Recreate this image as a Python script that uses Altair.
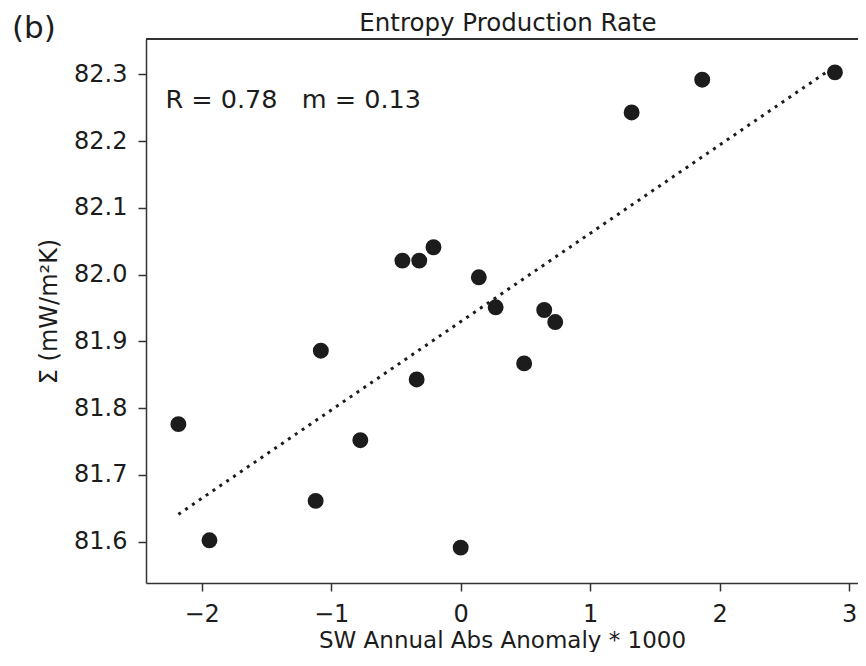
import altair as alt
import pandas as pd

# ---- data ----
x_vals = [-2.18, -1.94, -1.08, -1.12, -0.775, -0.45, -0.32, -0.21, -0.34,
          0.00, 0.14, 0.27, 0.645, 0.73, 0.49, 1.32, 1.865, 2.89]
y_vals = [81.776, 81.602, 81.886, 81.661, 81.752, 82.021, 82.021, 82.041, 81.843,
          81.591, 81.996, 81.951, 81.947, 81.929, 81.867, 82.243, 82.292, 82.303]
x_ticks = [-2, -1, 0, 1, 2, 3]
y_ticks = [81.6, 81.7, 81.8, 81.9, 82.0, 82.1, 82.2, 82.3]
title_text = "Entropy Production Rate"
panel_label = "(b)"
stats_text = "R = 0.78\u00a0\u00a0\u00a0m = 0.13"
stats_pos = {"x": [-2.28], "y": [82.25]}
x_title = "SW Annual Abs Anomaly * 1000"
y_title = "Σ (mW/m²K)"

df = pd.DataFrame({"x": x_vals, "y": y_vals})
ann = pd.DataFrame({"x": stats_pos["x"], "y": stats_pos["y"], "t": [stats_text]})

W, H = 712, 544
FONT = "DejaVu Sans"
INK = "#1c1c1c"

xscale = alt.Scale(domain=[-2.43, 3.068], nice=False, zero=False)
yscale = alt.Scale(domain=[81.538, 82.353], nice=False, zero=False)

x_enc = alt.X("x:Q", scale=xscale,
              axis=alt.Axis(values=x_ticks, format="d", title=x_title,
                            labelPadding=11, titlePadding=3, titleFontSize=23))
y_enc = alt.Y("y:Q", scale=yscale,
              axis=alt.Axis(values=y_ticks, format=".1f", title=y_title,
                            labelPadding=11, titlePadding=12))

base = alt.Chart(df)

fit = base.transform_regression("x", "y").mark_line(
    color=INK, strokeWidth=3, strokeDash=[3, 5.3], strokeCap="butt"
).encode(x=x_enc, y=y_enc)

pts = base.mark_circle(size=254, color=INK, opacity=1).encode(x=x_enc, y=y_enc)

stats = alt.Chart(ann).mark_text(
    font=FONT, fontSize=25.5, color=INK, align="left", baseline="alphabetic"
).encode(x=alt.X("x:Q", scale=xscale), y=alt.Y("y:Q", scale=yscale), text="t:N")

top_frame = alt.Chart(df).mark_rule(color="#333", strokeWidth=1.5).encode(
    x=alt.value(0), x2=alt.value(W), y=alt.value(0))

title_mark = alt.Chart(pd.DataFrame({"t": [title_text]})).mark_text(
    font=FONT, fontSize=24.5, color=INK, align="center", baseline="alphabetic"
).encode(x=alt.value(362), y=alt.value(-8), text="t:N")

label_mark = alt.Chart(pd.DataFrame({"t": [panel_label]})).mark_text(
    font=FONT, fontSize=31, color=INK, align="left", baseline="alphabetic"
).encode(x=alt.value(-134), y=alt.value(-1), text="t:N")

chart = alt.layer(top_frame, fit, pts, stats, title_mark, label_mark).properties(
    width=W, height=H,
    padding={"left": 138, "top": 31, "right": 0, "bottom": 69},
    autosize=alt.AutoSizeParams(type="none"),
).configure_view(stroke=None).configure_axis(
    labelFont=FONT, titleFont=FONT, labelFontSize=24, titleFontSize=24,
    titleFontWeight="normal", labelColor=INK, titleColor=INK,
    tickColor="#333", domainColor="#333", tickSize=8, tickWidth=1.5,
    domainWidth=1.5, grid=False,
)

chart.save("out.html", embed_options={"renderer": "svg", "actions": False})
